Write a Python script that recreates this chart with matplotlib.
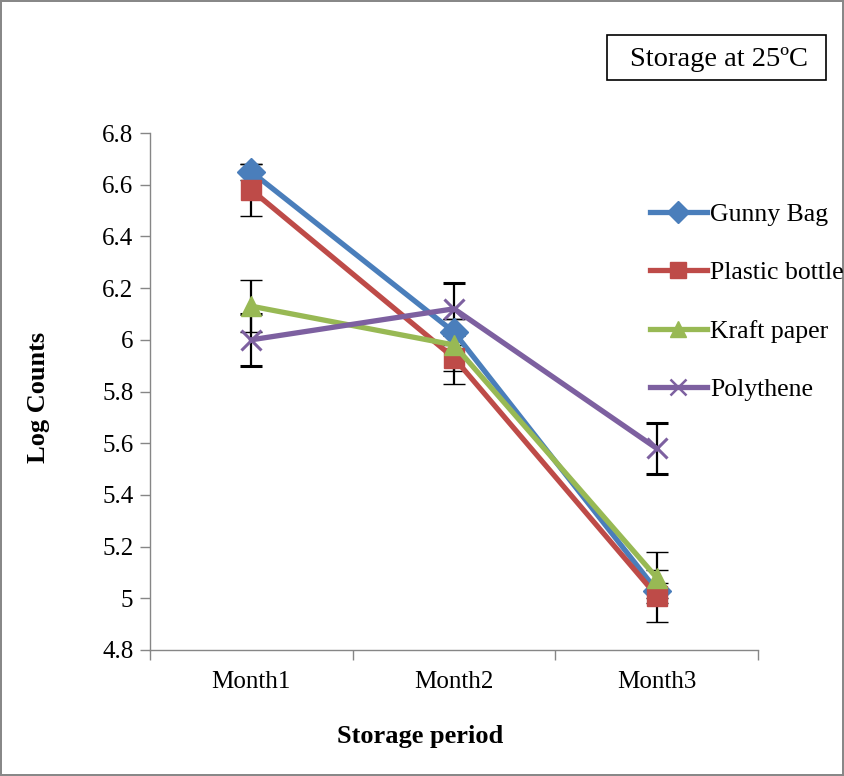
import matplotlib
matplotlib.use("Agg")
import matplotlib.pyplot as plt
from matplotlib.lines import Line2D
from matplotlib.patches import Rectangle

categories = ["Month1", "Month2", "Month3"]
gunny = [6.65, 6.03, 5.03]
plastic = [6.58, 5.93, 5.01]
kraft = [6.13, 5.98, 5.08]
poly = [6.00, 6.12, 5.58]
gunny_err = [0.03, 0.05, 0.03]
plastic_err = [0.10, 0.10, 0.10]
kraft_err = [0.10, 0.10, 0.10]
poly_err = [0.10, 0.10, 0.10]
series_names = ["Gunny Bag", "Plastic bottle", "Kraft paper", "Polythene"]
colors = ["#4A7EBB", "#BE4B48", "#98B954", "#7D60A0"]
markers = ["D", "s", "^", "x"]
yticks = [4.8, 5.0, 5.2, 5.4, 5.6, 5.8, 6.0, 6.2, 6.4, 6.6, 6.8]
ytick_labels = ["4.8", "5", "5.2", "5.4", "5.6", "5.8", "6", "6.2", "6.4", "6.6", "6.8"]

plt.rcParams['font.family'] = ['Liberation Serif', 'DejaVu Serif']

fig = plt.figure(figsize=(8.44, 7.76), dpi=100)
fig.patch.set_edgecolor("#888888")
fig.patch.set_linewidth(1.5)

W, H = 844, 776
ax = fig.add_axes([150 / W, 1 - 650 / H, (758 - 150) / W, (650 - 133) / H])

x = list(range(len(categories)))
data = [gunny, plastic, kraft, poly]
errs = [gunny_err, plastic_err, kraft_err, poly_err]
msizes = [14, 14.5, 15, 15]
for vals, e, name, c, m, ms in zip(data, errs, series_names, colors, markers, msizes):
    mew = 1.0 if m != "x" else 2.2
    ax.errorbar(x, vals, yerr=e, color=c, marker=m, markersize=ms, lw=3.8,
                ecolor="black", elinewidth=1.6, capsize=8, capthick=1.6,
                markeredgewidth=mew, markeredgecolor=c, markerfacecolor=c,
                label=name, zorder=3)

ax.set_xlim(-0.5, 2.5)
ax.set_ylim(4.8, 6.8)
ax.set_yticks(yticks)
ax.set_yticklabels(ytick_labels, fontsize=18)
ax.set_xticks(x)
ax.set_xticklabels(categories, fontsize=18)
ax.tick_params(axis="x", which="major", length=0, pad=15)
ax.set_xticks([-0.5, 0.5, 1.5, 2.5], minor=True)
ax.tick_params(axis="x", which="minor", length=7, color="#868686", width=1)
ax.tick_params(axis="y", length=7, color="#868686", width=1, pad=5)
for s in ["top", "right"]:
    ax.spines[s].set_visible(False)
for s in ["left", "bottom"]:
    ax.spines[s].set_color("#868686")
    ax.spines[s].set_linewidth(1)

fig.text(38 / W, 1 - 397 / H, "Log Counts", rotation=90, fontsize=19,
         fontweight="bold", ha="center", va="center")
fig.text(420 / W, 1 - 737 / H, "Storage period", fontsize=19,
         fontweight="bold", ha="center", va="center")

fig.patches.append(Rectangle((607 / W, 1 - 80 / H), 219 / W, 45 / H,
                             transform=fig.transFigure, facecolor="white",
                             edgecolor="black", lw=1.2))
fig.text(719 / W, 1 - 60 / H, "Storage at 25ºC", fontsize=20.5, ha="center", va="center")

handles = [Line2D([0], [0], color=c, marker=m, lw=3.8,
                  markersize=(11 if m != "x" else 12),
                  markeredgewidth=(1.0 if m != "x" else 1.8),
                  markeredgecolor=c, markerfacecolor=c)
           for c, m in zip(colors, markers)]
fig.legend(handles, series_names, loc="upper left",
           bbox_to_anchor=(650 / W, 1 - 203 / H), frameon=False, fontsize=18.5,
           handlelength=2.2, handletextpad=0.15, labelspacing=1.38, borderaxespad=0,
           borderpad=0)

fig.savefig("out.png", dpi=100)
